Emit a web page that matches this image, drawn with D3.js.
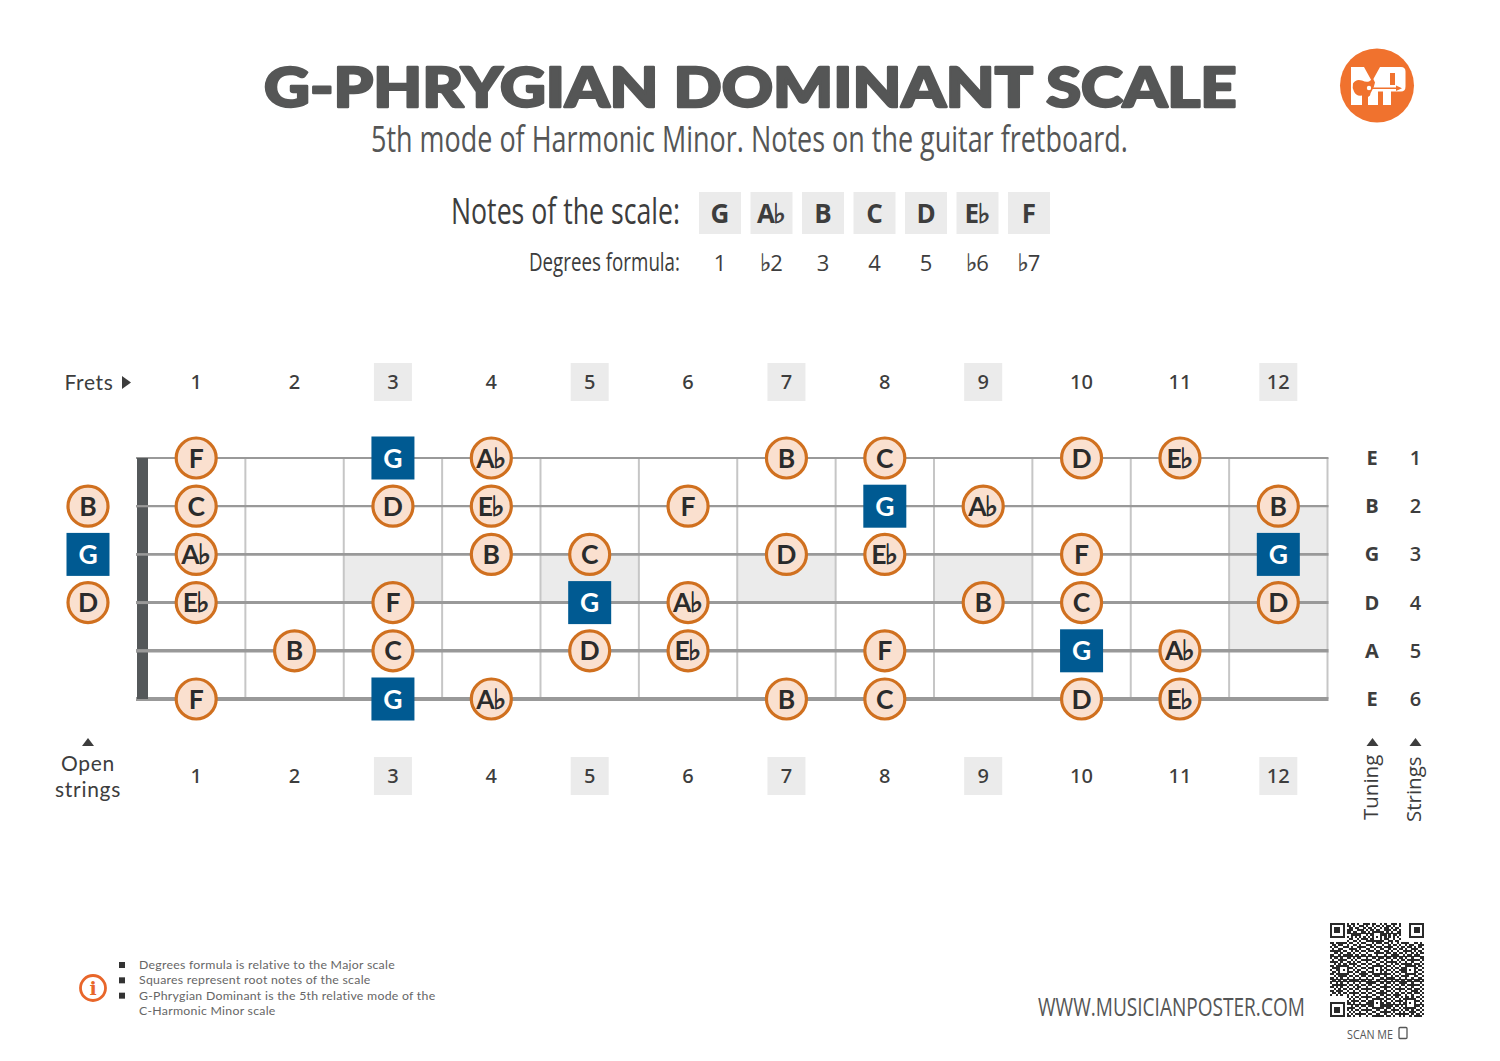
<!DOCTYPE html>
<html>
<head>
<meta charset="utf-8">
<script src="https://cdn.jsdelivr.net/npm/d3@7"></script>
<style>
  html, body { margin: 0; padding: 0; background: #fff; }
  svg { display: block; }
</style>
</head>
<body>
<svg id="chart" width="1500" height="1061"></svg>
<script>
const frets = [1, 2, 3, 4, 5, 6, 7, 8, 9, 10, 11, 12];
const markedFrets = [3, 5, 7, 9, 12];
const stringNumbers = [1, 2, 3, 4, 5, 6];
const tuning = ["E", "B", "G", "D", "A", "E"];
const scaleNotes = ["G", "Ab", "B", "C", "D", "Eb", "F"];
const degrees = ["1", "b2", "3", "4", "5", "b6", "b7"];
const rootNote = "G";

// notes per string as [fret, note]
const string1 = [[1, "F"], [3, "G"], [4, "Ab"], [7, "B"], [8, "C"], [10, "D"], [11, "Eb"]];
const string2 = [[1, "C"], [3, "D"], [4, "Eb"], [6, "F"], [8, "G"], [9, "Ab"], [12, "B"]];
const string3 = [[1, "Ab"], [4, "B"], [5, "C"], [7, "D"], [8, "Eb"], [10, "F"], [12, "G"]];
const string4 = [[1, "Eb"], [3, "F"], [5, "G"], [6, "Ab"], [9, "B"], [10, "C"], [12, "D"]];
const string5 = [[2, "B"], [3, "C"], [5, "D"], [6, "Eb"], [8, "F"], [10, "G"], [11, "Ab"]];
const string6 = [[1, "F"], [3, "G"], [4, "Ab"], [7, "B"], [8, "C"], [10, "D"], [11, "Eb"]];
const fretboard = [string1, string2, string3, string4, string5, string6];
const openStrings = [[2, "B"], [3, "G"], [4, "D"]];

const footNotes = [
  "Degrees formula is relative to the Major scale",
  "Squares represent root notes of the scale",
  "G-Phrygian Dominant is the 5th relative mode of the",
  "C-Harmonic Minor scale"
];
const footBullets = [0, 1, 2];

// rough reading of the code, finder and alignment squares are added on top
const qrRows = [
  "000000001011010011101100101001110100000000000",
  "000000001101001101001011010110100100000000000",
  "000000000110110010110100101101011000000000000",
  "000000001110011101011011001110110100000000000",
  "000000001101100110100101110101001100000000000",
  "000000000011111001011110011010110100000000000",
  "000000001010101010101010101010101000000000000",
  "000000000110010111011001101100100100000000000",
  "000000001001101001110110010011011000000000000",
  "110111110110010110001011101101001011110011010",
  "011011001001101001110100010010110100101100111",
  "101100111010011110011011101111001011011010110",
  "010011000111101001100100110010110110100111001",
  "111110110010110110111011001101001001111010110",
  "001101001101001001000111110110110110100101011",
  "110010111110110110110010001001111001011011100",
  "101101001101011001001101110110110110100100011",
  "010011110010100111110011001001001011011111101",
  "111101001101011001001100110111110100100100010",
  "001010110111100110110011001001011011111011101",
  "110101001001011001001100110110100100100100110",
  "011110110110100110111111001001011011011011001",
  "100101001001011001001000110110100111100100110",
  "011010111110110110110111001001011011011111001",
  "110101001001001111001000111110100100100100110",
  "001011110110110110110111001001011011110011001",
  "110101001001001001001000110111100100100100110",
  "011010110111110110110011001001011011011011101",
  "100101001001001001111100110110100111100100010",
  "011111110110110110110011001001011011011111101",
  "110101001001011001001100111110100100100100010",
  "001010110110110111110011001001011111011011101",
  "110111001001001001001100110110100100100111010",
  "011010110111110110110011111001011011011011101",
  "100101001001001001001100110110111100100100010",
  "000000001010110111110011001001011010110101101",
  "000000000101001001001111110110100101001010010",
  "000000001011110110110011001001011110110101101",
  "000000001101001001111100110110100101001010010",
  "000000000010110110110011011111011010110111101",
  "000000001111001001001100110110100101111010010",
  "000000001010110111110011001001111010110101101",
  "000000000101001001001100111110100101001110010",
  "000000001010111110110011001001011111110101101",
  "000000001101001001001111110110100101001011110"
];
const qrFinders = [[0, 0], [38, 0], [0, 38]];
const qrAligns = [[4, 20], [20, 4], [20, 20], [36, 20], [20, 36], [36, 36]];

const ink = "#3d3d3d";
const grey = "#555656";
const boxGrey = "#ebebeb";
const orange = "#d0701f";
const peach = "#fae0cf";
const blue = "#005a92";
const logoOrange = "#f0722e";

const svg = d3.select("#chart");

// scales
const x = d3.scaleBand().domain(frets).range([147, 1327.5]);
const y = d3.scalePoint().domain(stringNumbers).range([458, 699]);
const rowY = d3.scaleLinear().domain([1, 6]).range([458, 699]);
const scaleX = d3.scalePoint().domain(d3.range(scaleNotes.length)).range([720, 1029]);
const openX = 88;

// squeezes or stretches a text to a target width, the fonts here have no condensed cut
function fitText(tx, ty, width, text, attrs) {
  const t = svg.append("text").text(text);
  Object.entries(attrs).forEach(([k, v]) => t.attr(k, v));
  const w = t.node().getComputedTextLength();
  t.attr("transform", `translate(${tx},${ty}) scale(${width / w},1)`);
  return t;
}

// writes a note name with a real flat sign, the stroke gives the thin glyph some weight
function noteText(sel, s, flatSize) {
  sel.text(null);
  const m = s.match(/^([A-G])b$/);
  const d = s.match(/^b(\d)$/);
  const fill = sel.attr("fill");
  if (m) {
    sel.append("tspan").text(m[1]);
    sel.append("tspan").attr("font-family", "DejaVu Sans").attr("font-weight", 400)
      .attr("font-size", flatSize).attr("dx", -1.5)
      .attr("stroke", fill).attr("stroke-width", 0.8).text("\u266D");
  } else if (d) {
    sel.append("tspan").attr("font-family", "DejaVu Sans").attr("font-weight", 400)
      .attr("font-size", flatSize).attr("stroke", fill).attr("stroke-width", 0.4).text("\u266D");
    sel.append("tspan").attr("dx", -1).text(d[1]);
  } else {
    sel.text(s);
  }
}

// header
fitText(264, 107, 973, "G-PHRYGIAN DOMINANT SCALE", {
  "font-family": "Lato", "font-weight": 900, "font-size": 55,
  fill: grey, stroke: grey, "stroke-width": 2.4, "stroke-linejoin": "round"
});
fitText(371, 152, 757, "5th mode of Harmonic Minor. Notes on the guitar fretboard.", {
  "font-family": "Open Sans", "font-size": 36, fill: grey
});

// logo
const logo = svg.append("g").attr("transform", "translate(1377,85.5)");
logo.append("circle").attr("r", 37).attr("fill", logoOrange);
logo.append("path").attr("fill", "#fff").attr("fill-rule", "evenodd")
  .attr("d", "M-26,-18.5H-13L-5,-4L3,-18.5H24Q28.5,-18.5 28.5,-14V1Q28.5,6 24,6H14V19.5H6V6H1V19.5H-9V6L-15,6V19.5H-26Z M13,-12.5H18V-0.5H13Z");
logo.append("path").attr("fill", logoOrange)
  .attr("d", "M-24,-2Q-21,-7 -15,-5Q-11,-3 -8,-4L-4,-7L-2,-3Q-3,2 -5,5Q-7,8 -7,10L-11,13L-15,10Q-21,11 -23,6Q-25,2 -24,-2Z");
logo.append("circle").attr("cx", -8).attr("cy", 2.5).attr("r", 2.2).attr("fill", "#fff");
logo.append("path").attr("fill", logoOrange)
  .attr("d", "M-6,2H19L19,0L25,2.7L19,5.4V3.6H-6Z");

// scale notes row
fitText(451, 224, 229, "Notes of the scale:", { "font-family": "Open Sans", "font-size": 37, fill: ink });
fitText(529, 271, 151, "Degrees formula:", { "font-family": "Open Sans", "font-size": 26, fill: ink });

svg.append("g").selectAll("rect").data(scaleNotes).join("rect")
  .attr("x", (d, i) => scaleX(i) - 21).attr("y", 192)
  .attr("width", 42).attr("height", 42).attr("fill", boxGrey);
svg.append("g").selectAll("text").data(scaleNotes).join("text")
  .attr("x", (d, i) => scaleX(i)).attr("y", 223).attr("text-anchor", "middle")
  .attr("font-family", "Open Sans").attr("font-weight", 700).attr("font-size", 26).attr("fill", ink)
  .each(function (d) { noteText(d3.select(this), d, 27); });
svg.append("g").selectAll("text").data(degrees).join("text")
  .attr("x", (d, i) => scaleX(i)).attr("y", 271).attr("text-anchor", "middle")
  .attr("font-family", "Open Sans").attr("font-size", 22).attr("fill", ink)
  .each(function (d) { noteText(d3.select(this), d, 24); });

// fret number rows
[382, 776].forEach(cy => {
  svg.append("g").selectAll("rect").data(markedFrets).join("rect")
    .attr("x", d => x(d) + x.bandwidth() / 2 - 19).attr("y", cy - 19)
    .attr("width", 38).attr("height", 38).attr("fill", boxGrey);
  svg.append("g").selectAll("text").data(frets).join("text")
    .attr("x", d => x(d) + x.bandwidth() / 2).attr("y", cy + 7).attr("text-anchor", "middle")
    .attr("font-family", "Noto Sans").attr("font-weight", 500).attr("font-size", 20).attr("fill", ink)
    .text(d => d);
});

// inlay shading
const inlays = [[3, 3, 4], [5, 3, 4], [7, 3, 4], [9, 3, 4], [12, 2, 5]];
svg.append("g").selectAll("rect").data(inlays).join("rect")
  .attr("x", d => x(d[0])).attr("y", d => rowY(d[1]))
  .attr("width", x.bandwidth()).attr("height", d => rowY(d[2]) - rowY(d[1]))
  .attr("fill", boxGrey);

// fret wires
svg.append("g").selectAll("line").data(frets).join("line")
  .attr("x1", d => x(d) + x.bandwidth()).attr("x2", d => x(d) + x.bandwidth())
  .attr("y1", y(1)).attr("y2", y(6))
  .attr("stroke", "#c6c6c6").attr("stroke-width", 2);

// strings, thicker towards the low E
const stringWidth = d3.scaleLinear().domain([1, 6]).range([1.8, 3.8]);
svg.append("g").selectAll("line").data(stringNumbers).join("line")
  .attr("x1", 136).attr("x2", 1328.5)
  .attr("y1", d => y(d)).attr("y2", d => y(d))
  .attr("stroke", "#999").attr("stroke-width", d => stringWidth(d));

// nut
svg.append("rect").attr("x", 137).attr("y", y(1))
  .attr("width", 11).attr("height", y(6) - y(1)).attr("fill", "#54585a");
svg.append("g").selectAll("line").data(stringNumbers.slice(1, 5)).join("line")
  .attr("x1", 136).attr("x2", 148).attr("y1", d => y(d)).attr("y2", d => y(d))
  .attr("stroke", "#999").attr("stroke-width", d => stringWidth(d));

// note markers
function drawNote(g, cx, cy, note) {
  if (note === rootNote) {
    g.append("rect").attr("x", cx - 21.5).attr("y", cy - 21.5)
      .attr("width", 43).attr("height", 43).attr("fill", blue);
  } else {
    g.append("circle").attr("cx", cx).attr("cy", cy).attr("r", 20)
      .attr("fill", peach).attr("stroke", orange).attr("stroke-width", 3.2);
  }
  g.append("text").attr("x", cx).attr("y", cy + 9.5).attr("text-anchor", "middle")
    .attr("font-family", "Lato").attr("font-weight", 700).attr("font-size", 26.5)
    .attr("fill", note === rootNote ? "#fff" : "#2b2b2b")
    .call(noteText, note, 28);
}
const notesG = svg.append("g");
fretboard.forEach((str, i) => {
  str.forEach(([f, note]) => {
    drawNote(notesG.append("g"), x(f) + x.bandwidth() / 2, y(i + 1), note);
  });
});
openStrings.forEach(([s, note]) => drawNote(notesG.append("g"), openX, y(s), note));

// tuning and string number columns
svg.append("g").selectAll("text").data(tuning).join("text")
  .attr("x", 1372).attr("y", (d, i) => y(i + 1) + 7).attr("text-anchor", "middle")
  .attr("font-family", "Open Sans").attr("font-weight", 700).attr("font-size", 20).attr("fill", ink)
  .text(d => d);
svg.append("g").selectAll("text").data(stringNumbers).join("text")
  .attr("x", 1415.5).attr("y", d => y(d) + 7).attr("text-anchor", "middle")
  .attr("font-family", "Open Sans").attr("font-weight", 600).attr("font-size", 20).attr("fill", ink)
  .text(d => d);

// small labels
svg.append("text").attr("x", 64.5).attr("y", 389.5)
  .attr("font-family", "Lato").attr("font-size", 21).attr("letter-spacing", 0.6).attr("fill", ink).text("Frets");
svg.append("path").attr("d", "M122,376L131,382.5L122,389Z").attr("fill", ink);
svg.append("path").attr("d", "M82,746L88,738L94,746Z").attr("fill", ink);
svg.append("text").attr("x", 88).attr("y", 771).attr("text-anchor", "middle")
  .attr("font-family", "Lato").attr("font-size", 21).attr("letter-spacing", 0.7).attr("fill", ink).text("Open");
svg.append("text").attr("x", 88).attr("y", 797).attr("text-anchor", "middle")
  .attr("font-family", "Lato").attr("font-size", 21).attr("letter-spacing", 0.7).attr("fill", ink).text("strings");
[[1372.5, "Tuning", 1378, 820], [1415.5, "Strings", 1421, 822]].forEach(([tx, label, bx, by]) => {
  svg.append("path").attr("d", `M${tx - 6},746L${tx},738L${tx + 6},746Z`).attr("fill", ink);
  svg.append("text").attr("transform", `translate(${bx},${by}) rotate(-90)`)
    .attr("font-family", "Open Sans").attr("font-size", 20.5).attr("fill", ink).text(label);
});

// footnotes
const footY = d3.scalePoint().domain(d3.range(footNotes.length)).range([969, 1015]);
svg.append("g").selectAll("text").data(footNotes).join("text")
  .attr("x", 139).attr("y", (d, i) => footY(i))
  .attr("font-family", "Lato").attr("font-size", 12.3).attr("letter-spacing", 0.27).attr("fill", "#666")
  .text(d => d);
svg.append("g").selectAll("rect").data(footBullets).join("rect")
  .attr("x", 119).attr("y", d => footY(d) - 7).attr("width", 6).attr("height", 6).attr("fill", "#333");
svg.append("circle").attr("cx", 93).attr("cy", 988).attr("r", 12.5)
  .attr("fill", "none").attr("stroke", "#e8662a").attr("stroke-width", 2.8);
svg.append("text").attr("x", 93).attr("y", 995).attr("text-anchor", "middle")
  .attr("font-family", "DejaVu Serif").attr("font-weight", 700).attr("font-size", 19).attr("fill", "#e8662a").text("i");

// website and scan box
fitText(1038, 1016, 267, "WWW.MUSICIANPOSTER.COM", { "font-family": "Open Sans", "font-size": 25, fill: grey });
fitText(1347, 1039, 46, "SCAN ME", { "font-family": "Open Sans", "font-size": 12.5, fill: grey });
svg.append("rect").attr("x", 1399).attr("y", 1027.5).attr("width", 8).attr("height", 11).attr("rx", 1)
  .attr("fill", "none").attr("stroke", grey).attr("stroke-width", 1.3);

// QR code
const qrSize = 94 / 45;
const qr = svg.append("g").attr("transform", "translate(1330,923)").attr("shape-rendering", "crispEdges");
qrRows.forEach((row, r) => {
  row.split("").forEach((c, k) => {
    if (c === "1") qr.append("rect").attr("x", k * qrSize).attr("y", r * qrSize)
      .attr("width", qrSize + 0.1).attr("height", qrSize + 0.1).attr("fill", "#2a2a2a");
  });
});
const qrSquare = (mx, my, n, fill) => qr.append("rect")
  .attr("x", mx * qrSize).attr("y", my * qrSize).attr("width", n * qrSize).attr("height", n * qrSize).attr("fill", fill);
qrFinders.forEach(([mx, my]) => {
  qrSquare(mx, my, 7, "#2a2a2a");
  qrSquare(mx + 1, my + 1, 5, "#fff");
  qrSquare(mx + 2, my + 2, 3, "#2a2a2a");
});
qrAligns.forEach(([mx, my]) => {
  qrSquare(mx, my, 5, "#2a2a2a");
  qrSquare(mx + 1, my + 1, 3, "#fff");
  qrSquare(mx + 2, my + 2, 1, "#2a2a2a");
});
</script>
</body>
</html>
